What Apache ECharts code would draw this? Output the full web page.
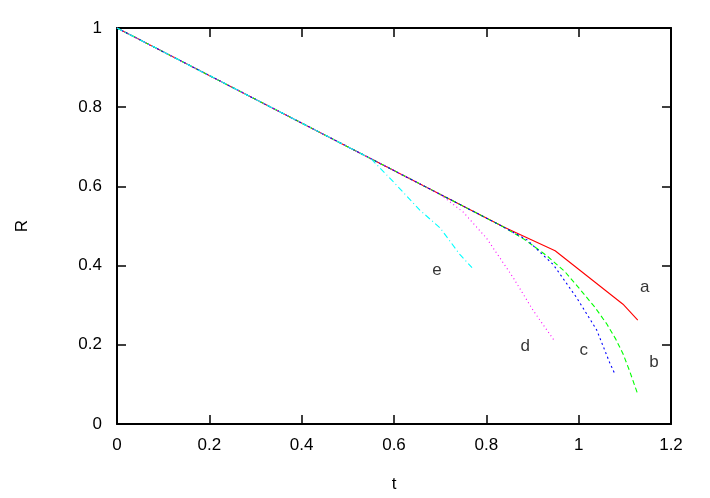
<!DOCTYPE html>
<html>
<head>
<meta charset="utf-8">
<script src="https://cdn.jsdelivr.net/npm/echarts@6/dist/echarts.min.js"></script>
<style>html,body{margin:0;padding:0;background:#fff}#c{width:710px;height:498px}</style>
</head>
<body>
<div id="c"></div>
<script>
// Data (t, R)
const seriesA = [[0,1],[0.55,0.67],[0.84,0.496],[0.949,0.4375],[1.096,0.3025],[1.128,0.2625]];
const seriesB = [[0,1],[0.55,0.67],[0.835,0.499],[0.88,0.468],[0.931,0.425],[0.97,0.385],[1.003,0.34],[1.035,0.295],[1.061,0.2525],[1.08,0.215],[1.096,0.1775],[1.11,0.135],[1.128,0.075]];
const seriesC = [[0,1],[0.55,0.67],[0.83,0.502],[0.888,0.465],[0.945,0.4025],[0.995,0.32],[1.039,0.2375],[1.068,0.1525],[1.079,0.125]];
const seriesD = [[0,1],[0.55,0.67],[0.70,0.58],[0.75,0.535],[0.80,0.47],[0.858,0.37],[0.901,0.2875],[0.949,0.2075]];
const seriesE = [[0,1],[0.55,0.67],[0.60,0.61],[0.656,0.54],[0.70,0.495],[0.743,0.4275],[0.769,0.395]];
const curveLabels = ['a','b','c','d','e'];
const labelPositions = [[1.143,0.345],[1.163,0.155],[1.011,0.185],[0.884,0.195],[0.693,0.3875]];
const xTicks = [0,0.2,0.4,0.6,0.8,1,1.2];
const yTicks = [0,0.2,0.4,0.6,0.8,1];

const font = 'Liberation Sans, Arial, sans-serif';
const chart = echarts.init(document.getElementById('c'), null, {renderer:'canvas'});
function lineSeries(data, color, type){
  return {type:'line', data:data, showSymbol:false, symbol:'none', smooth:false, animation:false,
    lineStyle:{color:color, width:1.1, type:type}, z:3};
}
const axisCommon = {
  min:0, interval:0.2, splitLine:{show:false},
  axisLine:{show:true, onZero:false, lineStyle:{color:'#000', width:2}},
  axisTick:{show:true, inside:true, length:9, lineStyle:{color:'#000', width:1.5}},
};
chart.setOption({
  animation:false,
  backgroundColor:'#fff',
  grid:{left:117, right:39, top:28, bottom:70, containLabel:false},
  xAxis:[
    Object.assign({}, axisCommon, {type:'value', position:'bottom', max:1.2,
      name:'t', nameLocation:'middle', nameGap:52, nameTextStyle:{fontFamily:font, fontSize:17, color:'#000'},
      axisLabel:{show:true, margin:13, fontFamily:font, fontSize:17, color:'#000', formatter:v=>String(+v.toFixed(1))}}),
    Object.assign({}, axisCommon, {type:'value', position:'top', max:1.2, axisLabel:{show:false}})
  ],
  yAxis:[
    Object.assign({}, axisCommon, {type:'value', position:'left', max:1,
      name:'R', nameLocation:'middle', nameGap:86, nameRotate:90, nameTextStyle:{fontFamily:font, fontSize:17, color:'#000'},
      axisLabel:{show:true, margin:15, fontFamily:font, fontSize:17, color:'#000', formatter:v=>String(+v.toFixed(1))}}),
    Object.assign({}, axisCommon, {type:'value', position:'right', max:1, axisLabel:{show:false}})
  ],
  series:[
    lineSeries(seriesA, '#ff0000', 'solid'),
    lineSeries(seriesB, '#00ff00', [5,3]),
    lineSeries(seriesC, '#0000ff', [2,3]),
    lineSeries(seriesD, '#ff00ff', [1,3]),
    lineSeries(seriesE, '#00ffff', [6,3,1,3]),
    {type:'scatter', symbolSize:0, animation:false, silent:true,
      data: labelPositions.map((p,i)=>({value:p, name:curveLabels[i]})),
      label:{show:true, position:'inside', formatter:p=>p.name, fontFamily:font, fontSize:17, color:'#000'}}
  ]
});
</script>
</body>
</html>
